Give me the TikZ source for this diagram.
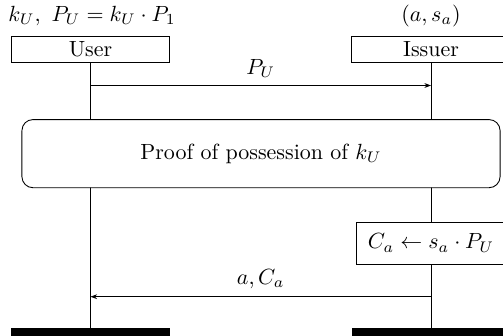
\documentclass[tikz,border=0pt]{standalone}
\usepackage{amsmath}
\usepackage{amssymb}
\usetikzlibrary{arrows.meta, positioning, calc}

\begin{document}
\begin{tikzpicture}[
  party/.style={rectangle, draw, minimum width=2.54cm, minimum height=0.416cm, inner sep=0pt},
  endbar/.style={rectangle, fill=black, minimum width=2.54cm, minimum height=0.2cm, inner sep=0pt},
  proofbox/.style={rectangle, draw, rounded corners=5pt, minimum width=7.65cm, minimum height=1.09cm},
  action/.style={rectangle, draw, minimum width=2.4cm, minimum height=0.672cm},
  msg/.style={-{Stealth[length=3pt, width=2.2pt]}, thin}
]
  \useasboundingbox (0,0) rectangle (8.048,-5.36);

  \node[party] (user)   at (1.448,-0.784) {User};
  \node[party] (issuer) at (6.896,-0.784) {Issuer};
  \node[anchor=west]  (userkey)   at (0.01,-0.256) {$k_U,\ P_U = k_U \cdot P_1$};
  \node[anchor=south] (issuerkey) at ($(issuer.north)+(0,0.02)$) {$(a, s_a)$};

  \node[endbar, anchor=north] (userend)   at (1.448,-5.248) {};
  \node[endbar, anchor=north] (issuerend) at (6.896,-5.248) {};

  % lifelines
  \draw (user) -- (userend);
  \draw (issuer) -- (issuerend);

  \coordinate (m1) at (0,-1.368);
  \coordinate (m2) at (0,-4.747);

  \node[proofbox, fill=white] (proof) at (4.176,-2.458) {Proof of possession of $k_U$};
  \node[action, fill=white]   (sign)  at (6.896,-3.888) {$C_a \leftarrow s_a \cdot P_U$};

  \draw[msg] (user |- m1) -- (issuer |- m1) node[midway, above] {$P_U$};
  \draw[msg] (issuer |- m2) -- (user |- m2) node[midway, above] {$a, C_a$};
\end{tikzpicture}
\end{document}
